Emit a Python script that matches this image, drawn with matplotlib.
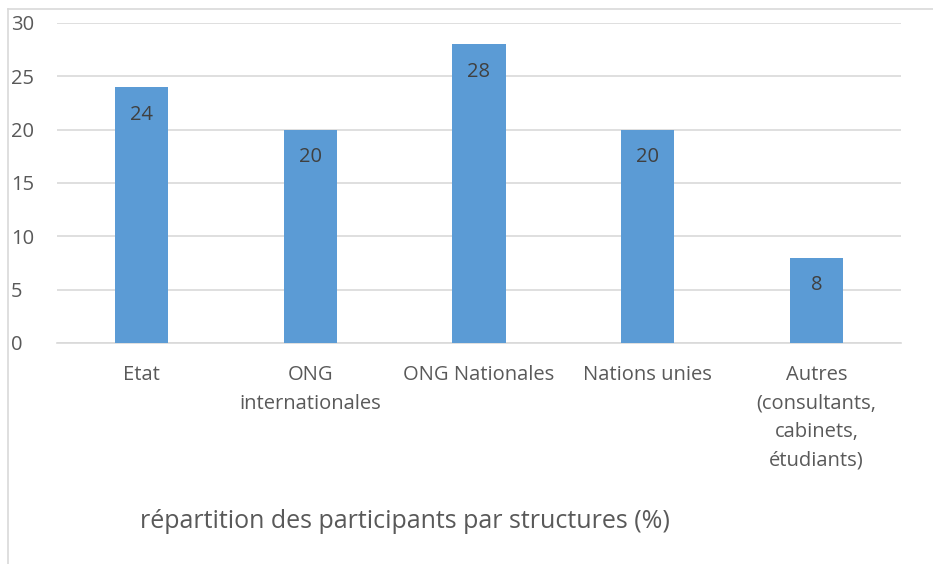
import matplotlib
matplotlib.use("Agg")
import matplotlib.pyplot as plt
from matplotlib.lines import Line2D

categories = ["Etat", "ONG\ninternationales", "ONG Nationales", "Nations unies",
              "Autres\n(consultants,\ncabinets,\nétudiants)"]
values = [24, 20, 28, 20, 8]
yticks = [0, 5, 10, 15, 20, 25, 30]
title = "répartition des participants par structures (%)"

plt.rcParams['font.family'] = ['Open Sans', 'DejaVu Sans']
txt = '#595959'
fs = 14.5
fig = plt.figure(figsize=(9.33, 5.64), dpi=100)
W, H = 933, 564
ax = fig.add_axes([57 / W, 1 - 343 / H, (901 - 57) / W, (343 - 23) / H])

x = list(range(len(categories)))
bars = ax.bar(x, values, width=0.314, color='#5b9bd5', zorder=3)
ax.set_xlim(-0.5, len(categories) - 0.5)
ax.set_ylim(0, 30)
ax.set_yticks(yticks)
ax.set_yticklabels([str(t) for t in yticks], color=txt, fontsize=fs)
ax.set_xticks(x)
ax.set_xticklabels(categories, color=txt, fontsize=fs, linespacing=1.56, va='top')
ax.tick_params(axis='both', length=0)
ax.tick_params(axis='y', pad=33)
ax.tick_params(axis='x', pad=16)
for lbl in ax.get_yticklabels():
    lbl.set_horizontalalignment('left')
ax.yaxis.grid(True, color='#d9d9d9', linewidth=1.2, zorder=0)
for s in ['top', 'right', 'left']:
    ax.spines[s].set_visible(False)
ax.spines['bottom'].set_color('#d9d9d9')
ax.spines['bottom'].set_linewidth(1.2)

for b, v in zip(bars, values):
    ax.annotate(str(v), (b.get_x() + b.get_width() / 2, v), xytext=(0, -20),
                textcoords='offset points', ha='center', va='center',
                color='#404040', fontsize=fs, zorder=4)

fig.text(405 / W, 1 - 522 / H, title, ha='center', va='center', color=txt, fontsize=18)

fig.add_artist(Line2D([8 / W, 8 / W], [0, 1 - 9 / H], transform=fig.transFigure,
                      color='#d9d9d9', linewidth=1.2))
fig.add_artist(Line2D([8 / W, 1], [1 - 9 / H, 1 - 9 / H], transform=fig.transFigure,
                      color='#d9d9d9', linewidth=1.2))

fig.savefig("out.png", dpi=100)
